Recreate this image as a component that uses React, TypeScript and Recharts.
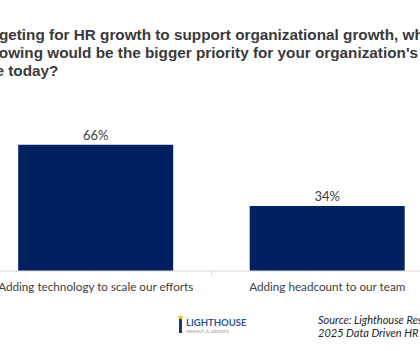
import { BarChart, Bar, XAxis, YAxis, LabelList } from 'recharts'

const categories = ['Adding technology to scale our efforts', 'Adding headcount to our team']
const shares = [66, 34]
const titleLines = [
  'When budgeting for HR growth to support organizational growth, which',
  "of the following would be the bigger priority for your organization's",
  'HR practice today?',
]
const titleShift = [-75, -70, -81]
const sourceLines = ['Source: Lighthouse Research & Advisory', '2025 Data Driven HR Study']

const data = categories.map((name, i) => ({ name, value: shares[i] }))

const CHART_W = 463
const BAND = CHART_W / categories.length

function CategoryTick(props: any) {
  const { x, y, payload, index } = props
  return (
    <g>
      {index === 0 && (
        <line x1={x + BAND / 2} x2={x + BAND / 2} y1={y - 8} y2={y - 4} stroke="#d9d9d9" />
      )}
      <text x={x} y={y} dy={12} textAnchor="middle" fill="#404040" fontSize={11.7} fontFamily="Lato">
        {payload.value}
      </text>
    </g>
  )
}

export default function App() {
  return (
    <div
      style={{
        position: 'absolute',
        left: 0,
        top: 0,
        width: 420,
        height: 351,
        overflow: 'hidden',
        background: '#fff',
      }}
    >
      <div
        style={{
          position: 'absolute',
          left: 0,
          top: 26,
          whiteSpace: 'nowrap',
          fontFamily: '"Liberation Sans", Arial, sans-serif',
          fontWeight: 'bold',
          fontSize: 15.3,
          lineHeight: '18px',
          color: '#3a3a3a',
        }}
      >
        {titleLines.map((l, i) => (
          <div key={l} style={{ marginLeft: titleShift[i] }}>
            {l}
          </div>
        ))}
      </div>

      <div style={{ position: 'absolute', left: -20, top: 100 }}>
        <BarChart
          width={CHART_W}
          height={200}
          data={data}
          margin={{ top: 37, right: 0, left: 0, bottom: 0 }}
          barCategoryGap="16.5%"
        >
          <XAxis
            dataKey="name"
            height={29}
            axisLine={{ stroke: '#d9d9d9' }}
            tickLine={false}
            interval={0}
            tick={<CategoryTick />}
          />
          <YAxis hide domain={[0, 70]} />
          <Bar dataKey="value" fill="#002060" isAnimationActive={false}>
            <LabelList
              dataKey="value"
              position="top"
              offset={5}
              formatter={(v: any) => `${v}%`}
              fill="#404040"
              fontSize={13}
              fontFamily="Lato"
            />
          </Bar>
        </BarChart>
      </div>

      <svg style={{ position: 'absolute', left: 176, top: 314 }} width={72} height={22}>
        <rect x={3} y={5} width={3} height={14} fill="#1f3864" />
        <rect x={2.5} y={2} width={4} height={3} fill="#f2c200" />
        <text x={10} y={12} fontFamily="Lato" fontWeight="bold" fontSize={9.5} fill="#2f5597">
          LIGHTHOUSE
        </text>
        <text x={10} y={18.5} fontFamily="Lato" fontSize={5} fill="#a6a6a6">
          research & advisory
        </text>
      </svg>

      <div
        style={{
          position: 'absolute',
          left: 318,
          top: 313,
          whiteSpace: 'nowrap',
          fontFamily: 'Lato',
          fontStyle: 'italic',
          fontSize: 11,
          lineHeight: '13px',
          color: '#262626',
        }}
      >
        {sourceLines.map((l) => (
          <div key={l}>{l}</div>
        ))}
      </div>
    </div>
  )
}
